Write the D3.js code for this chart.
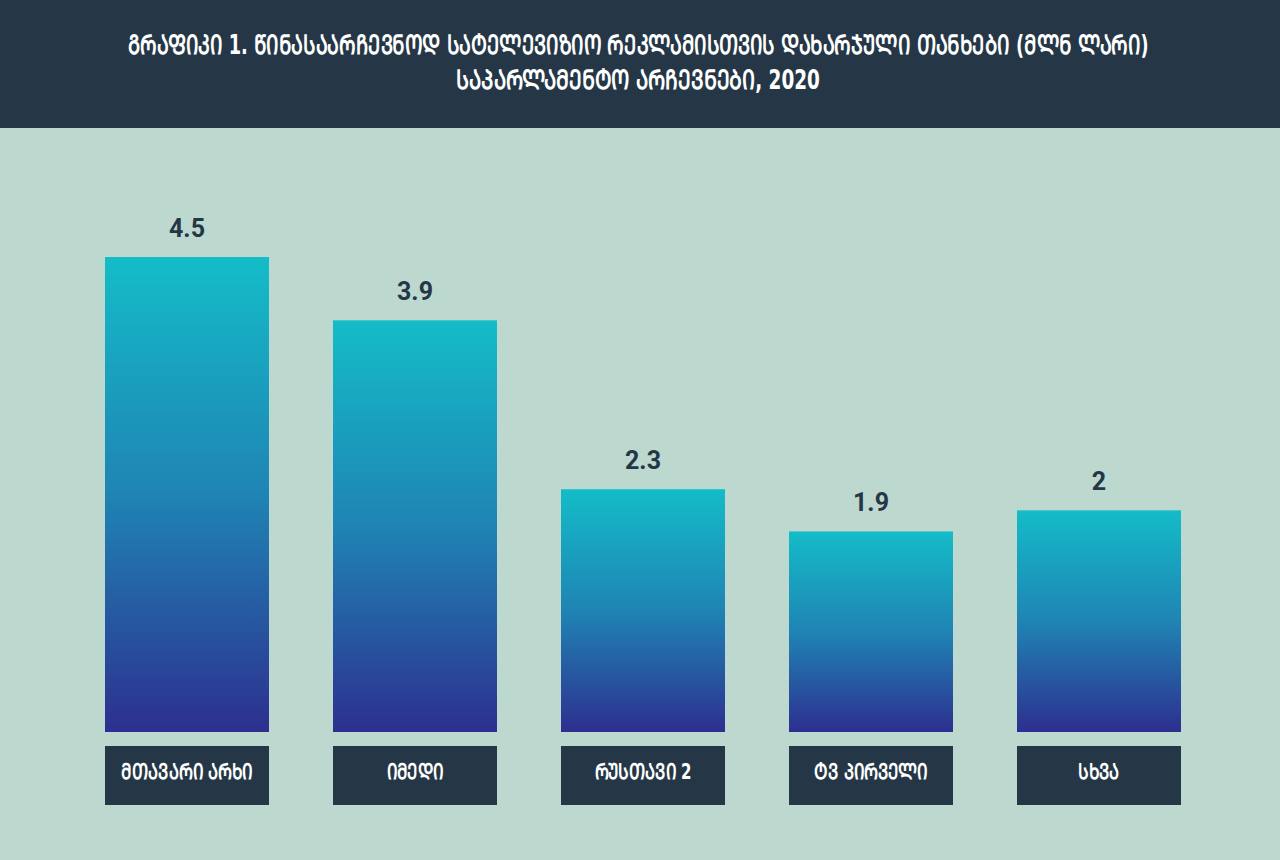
<!DOCTYPE html>
<html><head><meta charset="utf-8">
<script src="https://cdn.jsdelivr.net/npm/d3@7"></script>
<style>
html,body{margin:0;padding:0;background:#bcd8cf;}
svg{display:block;}
</style></head>
<body>
<svg id="chart" width="1280" height="860"></svg>
<script>
const categories = ["მთავარი არხი", "იმედი", "რუსთავი 2", "ტვ პირველი", "სხვა"];
const values = [4.5, 3.9, 2.3, 1.9, 2.1];
const valueLabels = ["4.5", "3.9", "2.3", "1.9", "2"];
const titleLines = ["გრაფიკი 1. წინასაარჩევნოდ სატელევიზიო რეკლამისთვის დახარჯული თანხები  (მლნ ლარი)", "საპარლამენტო არჩევნები, 2020"];

const W = 1280, H = 860;
const svg = d3.select("#chart");
const georgianFont = "'DejaVu Sans Condensed','DejaVu Sans',sans-serif";
// render Georgian in capital (Mtavruli) form
const caps = s => s.replace(/[\u10D0-\u10FA]/g, c => String.fromCharCode(c.charCodeAt(0) + 0xBC0));

svg.append("rect").attr("width", W).attr("height", H).attr("fill", "#bcd8cf");
svg.append("rect").attr("width", W).attr("height", 128).attr("fill", "#253746");

const titleScale = [0.73, 0.76];
svg.selectAll("g.title").data(titleLines).join("g")
  .attr("class", "title")
  .attr("transform", (d, i) => `translate(638,${54 + i * 35}) scale(${titleScale[i]},1)`)
  .append("text")
  .attr("text-anchor", "middle")
  .attr("fill", "#ffffff")
  .attr("font-family", georgianFont)
  .attr("font-weight", "bold")
  .attr("font-size", 27)
  .text(d => caps(d));

const defs = svg.append("defs");
const grad = defs.append("linearGradient").attr("id", "barGrad")
  .attr("x1", 0).attr("y1", 0).attr("x2", 0).attr("y2", 1);
grad.append("stop").attr("offset", "0%").attr("stop-color", "#14bcc8");
grad.append("stop").attr("offset", "50%").attr("stop-color", "#1f84b4");
grad.append("stop").attr("offset", "100%").attr("stop-color", "#2d2f8f");

const x = d3.scaleBand().domain(categories).range([73, 1213]).paddingInner(64 / 228).paddingOuter(32 / 228);
const y = d3.scaleLinear().domain([0, 4.5]).range([732, 257]);

const g = svg.append("g");
g.selectAll("rect.bar").data(categories).join("rect")
  .attr("class", "bar")
  .attr("x", d => x(d)).attr("width", x.bandwidth())
  .attr("y", (d, i) => y(values[i]))
  .attr("height", (d, i) => y(0) - y(values[i]))
  .attr("fill", "url(#barGrad)");

g.selectAll("text.val").data(categories).join("text")
  .attr("class", "val")
  .attr("x", d => x(d) + x.bandwidth() / 2)
  .attr("y", (d, i) => y(values[i]) - 20)
  .attr("text-anchor", "middle")
  .attr("fill", "#253746")
  .attr("font-family", "Roboto, sans-serif")
  .attr("font-weight", "bold")
  .attr("font-size", 25)
  .text((d, i) => valueLabels[i]);

g.selectAll("rect.lab").data(categories).join("rect")
  .attr("class", "lab")
  .attr("x", d => x(d)).attr("width", x.bandwidth())
  .attr("y", 746).attr("height", 59)
  .attr("fill", "#253746");

g.selectAll("g.lab").data(categories).join("g")
  .attr("class", "lab")
  .attr("transform", d => `translate(${x(d) + x.bandwidth() / 2},779) scale(0.76,1)`)
  .append("text")
  .attr("text-anchor", "middle")
  .attr("fill", "#ffffff")
  .attr("font-family", georgianFont)
  .attr("font-weight", "bold")
  .attr("font-size", 22)
  .text(d => caps(d));
</script>
</body></html>
